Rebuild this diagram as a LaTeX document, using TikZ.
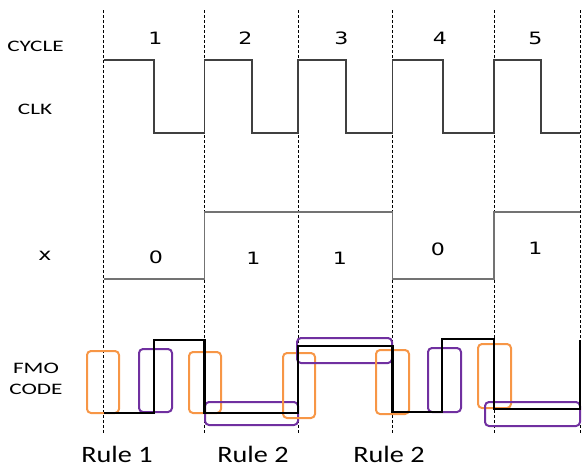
\documentclass[tikz,border=0pt]{standalone}
\usepackage{fontspec}
\usepackage{tikz}
\setmainfont{Carlito}
\newfontfamily\labelfont[FakeStretch=1.45]{Carlito}
\newfontfamily\rulefont[FakeStretch=1.2]{Carlito}
\newfontfamily\digitfont[FakeStretch=1.3]{DejaVu Sans}
\definecolor{fmoorange}{HTML}{F79646}
\definecolor{fmopurple}{HTML}{7030A0}
\tikzset{
  guide/.style={densely dashed, line width=0.7pt, black},
  wave/.style={line width=1.1pt, black!75},
  xwave/.style={line width=1.4pt, black!55},
  fmo/.style={line width=2.5pt, black},
  obox/.style={line width=2pt, fmoorange, rounded corners=4pt},
  pbox/.style={line width=2pt, fmopurple, rounded corners=4pt},
  sig/.style={inner sep=0pt, font=\labelfont\fontsize{16}{19}\selectfont},
  bit/.style={inner sep=0pt, font=\digitfont\fontsize{17}{20}\selectfont},
  rule/.style={inner sep=0pt, font=\rulefont\fontsize{23.5}{26}\selectfont}
}

\begin{document}
\begin{tikzpicture}[x=1pt, y=-1pt]
      \useasboundingbox (0,0) rectangle (584,469);
      % cycle boundaries
      \foreach \t in {103.5,204.5,298,392.5,494,580}
        \draw[guide] (\t,10) -- (\t,434);

      % signal names
      \node[sig] at (35.5, 46.5) (cycle) {CYCLE};
      \node[sig] at (35, 109.5) (clk) {CLK};
      \node[bit] at (45, 256) (xname) {x};
      \node[sig] at (36, 368) (fmo) {FMO};
      \node[sig] at (36, 389) (code) {CODE};

      % cycle numbers
      \foreach \c/\n in {155.5/1, 245.5/2, 341.5/3, 440/4, 535.5/5}
        \node[bit] at (\c, 38) (cyc\n) {\n};

      % clock
      \draw[wave] (103.5,60) -- (154,60) -- (154,133) -- (204.5,133) -- (204.5,60)
        -- (252,60) -- (252,133) -- (298,133) -- (298,60) -- (346,60) -- (346,133)
        -- (392.5,133) -- (392.5,60) -- (443,60) -- (443,133) -- (494,133)
        -- (494,60) -- (541,60) -- (541,133) -- (580,133);

      % input x
      \draw[xwave] (103.5,279) -- (204.5,279) -- (204.5,212) -- (392.5,212)
        -- (392.5,279) -- (494,279) -- (494,212) -- (580,212);
      \node[bit] at (156, 257) (b1) {0};
      \node[bit] at (253.5, 258.5) (b2) {1};
      \node[bit] at (340, 258.5) (b3) {1};
      \node[bit] at (438, 249) (b4) {0};
      \node[bit] at (535.5, 248) (b5) {1};

      % FMO code groupings
      \draw[obox] (87,351) rectangle (119,413);
      \draw[pbox] (139,349) rectangle (172,412);
      \draw[obox] (189,352) rectangle (221,413);
      \draw[pbox] (205,402) rectangle (298,425);
      \draw[obox] (283,353) rectangle (315,418);
      \draw[pbox] (297,338) rectangle (392,363);
      \draw[obox] (376,350) rectangle (409,414);
      \draw[pbox] (428,348) rectangle (461,412);
      \draw[obox] (478,344) rectangle (511,408);
      \draw[pbox] (485,402) rectangle (580,426);

      % FMO waveform
      \draw[fmo] (103.5,413) -- (154,413) -- (154,340) -- (204.5,340) -- (204.5,413)
        -- (298,413) -- (298,346) -- (392.5,346) -- (392.5,412) -- (442,412)
        -- (442,339) -- (494,339) -- (494,409) -- (580,409) -- (580,340);

      \node[rule] at (117, 454) (r1) {Rule 1};
      \node[rule] at (253, 454) (r2) {Rule 2};
      \node[rule] at (389, 454) (r3) {Rule 2};
\end{tikzpicture}
\end{document}
